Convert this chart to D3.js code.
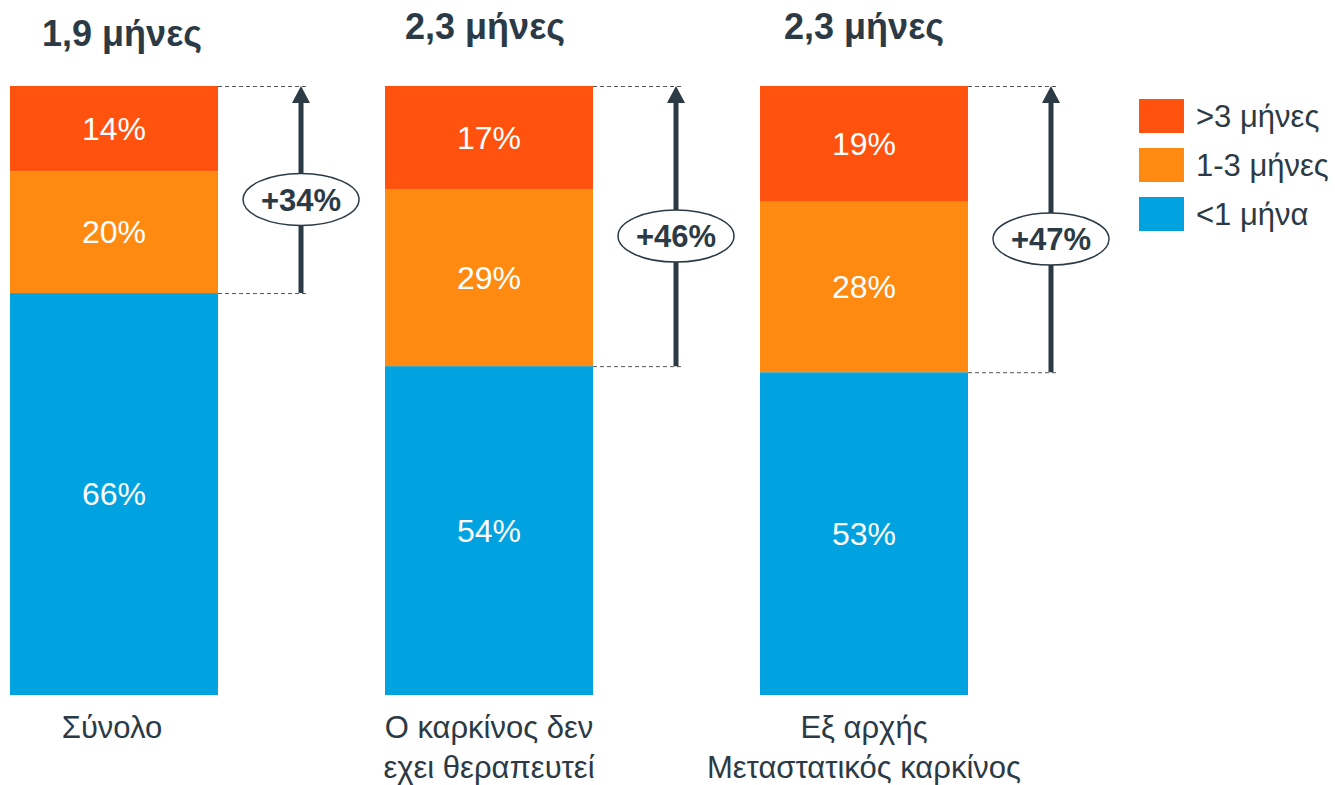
<!DOCTYPE html>
<html>
<head>
<meta charset="utf-8">
<script src="https://cdn.jsdelivr.net/npm/d3@7"></script>
<style>
  html, body { margin: 0; padding: 0; background: #fff; }
  svg { display: block; font-family: "Liberation Sans", Arial, sans-serif; }
</style>
</head>
<body>
<svg id="chart" width="1335" height="785"></svg>
<script>
// ---- data ----
const categories = ["Σύνολο", "Ο καρκίνος δεν\nεχει θεραπευτεί", "Εξ αρχής\nΜεταστατικός καρκίνος"];
const titles = ["1,9 μήνες", "2,3 μήνες", "2,3 μήνες"];
const seriesNames = ["<1 μήνα", "1-3 μήνες", ">3 μήνες"];
const lessThan1 = [66, 54, 53];
const oneTo3 = [20, 29, 28];
const moreThan3 = [14, 17, 19];
const increases = ["+34%", "+46%", "+47%"];
const legendLabels = [">3 μήνες", "1-3 μήνες", "<1 μήνα"];

const colors = { "<1 μήνα": "#00A3E0", "1-3 μήνες": "#FF8A12", ">3 μήνες": "#FF520E" };
const dark = "#2B3A45";

const svg = d3.select("#chart");

const rows = categories.map((c, i) => ({
  cat: c, "<1 μήνα": lessThan1[i], "1-3 μήνες": oneTo3[i], ">3 μήνες": moreThan3[i]
}));
const stack = d3.stack().keys(seriesNames)(rows);

const x = d3.scaleBand().domain(categories).range([10, 968]).paddingInner(0.4453).paddingOuter(0);
const y = d3.scaleLinear().domain([0, 100]).range([695, 86]);
const cx = d => x(d) + x.bandwidth() / 2;

// bars
const layers = svg.append("g").selectAll("g").data(stack).join("g")
  .attr("fill", d => colors[d.key]);
layers.selectAll("rect").data(d => d).join("rect")
  .attr("x", d => x(d.data.cat))
  .attr("y", d => y(d[1]))
  .attr("width", x.bandwidth())
  .attr("height", d => y(d[0]) - y(d[1]));

// value labels
layers.selectAll("text").data(d => d.map(v => ({v, key: d.key}))).join("text")
  .attr("x", d => cx(d.v.data.cat))
  .attr("y", d => (y(d.v[0]) + y(d.v[1])) / 2)
  .attr("dy", "0.35em")
  .attr("text-anchor", "middle")
  .attr("fill", "#fff")
  .attr("font-size", 32)
  .text(d => (d.v[1] - d.v[0]) + "%");

// titles
const titleShift = [8, -4, 0];
svg.append("g").selectAll("text").data(categories).join("text")
  .attr("x", (d, i) => cx(d) + titleShift[i])
  .attr("y", (d, i) => i === 0 ? 46 : 39)
  .attr("text-anchor", "middle")
  .attr("font-size", 36)
  .attr("font-weight", "bold")
  .attr("fill", dark)
  .text((d, i) => titles[i]);

// category labels
const catShift = [-2, 0, 0];
const catG = svg.append("g").selectAll("text").data(categories).join("text")
  .attr("y", 738)
  .attr("text-anchor", "middle")
  .attr("font-size", 31)
  .attr("fill", dark);
catG.selectAll("tspan").data((d, i) => d.split("\n").map(s => ({s, cat: d, i}))).join("tspan")
  .attr("x", d => cx(d.cat) + catShift[d.i])
  .attr("dy", (d, j) => j === 0 ? 0 : 40)
  .text(d => d.s);

// arrows with dashed guides
const arrowG = svg.append("g");
categories.forEach((c, i) => {
  const right = x(c) + x.bandwidth();
  const ax = right + 83;
  const top = y(100);
  const base = y(lessThan1[i]);
  [top, base].forEach(yy => {
    arrowG.append("line")
      .attr("x1", right).attr("x2", ax + 8)
      .attr("y1", yy + 0.5).attr("y2", yy + 0.5)
      .attr("stroke", "#555").attr("stroke-width", 1)
      .attr("stroke-dasharray", "4,3");
  });
  arrowG.append("line")
    .attr("x1", ax).attr("x2", ax)
    .attr("y1", base).attr("y2", top + 14)
    .attr("stroke", dark).attr("stroke-width", 5);
  arrowG.append("path")
    .attr("d", `M${ax},${top} L${ax - 9},${top + 17} L${ax + 9},${top + 17} Z`)
    .attr("fill", dark);
  const cy = (top + base) / 2 + 10;
  arrowG.append("ellipse")
    .attr("cx", ax).attr("cy", cy)
    .attr("rx", 58).attr("ry", 26)
    .attr("fill", "#fff").attr("stroke", dark).attr("stroke-width", 1.5);
  arrowG.append("text")
    .attr("x", ax).attr("y", cy).attr("dy", "0.36em")
    .attr("text-anchor", "middle")
    .attr("font-size", 31).attr("font-weight", "bold")
    .attr("fill", dark)
    .text(increases[i]);
});

// legend
const leg = svg.append("g").selectAll("g").data(legendLabels).join("g")
  .attr("transform", (d, i) => `translate(1139, ${99 + i * 49})`);
leg.append("rect")
  .attr("width", 45).attr("height", 34)
  .attr("fill", d => colors[d]);
leg.append("text")
  .attr("x", 57).attr("y", 17).attr("dy", "0.36em")
  .attr("font-size", 31).attr("fill", dark)
  .text(d => d);
</script>
</body>
</html>
